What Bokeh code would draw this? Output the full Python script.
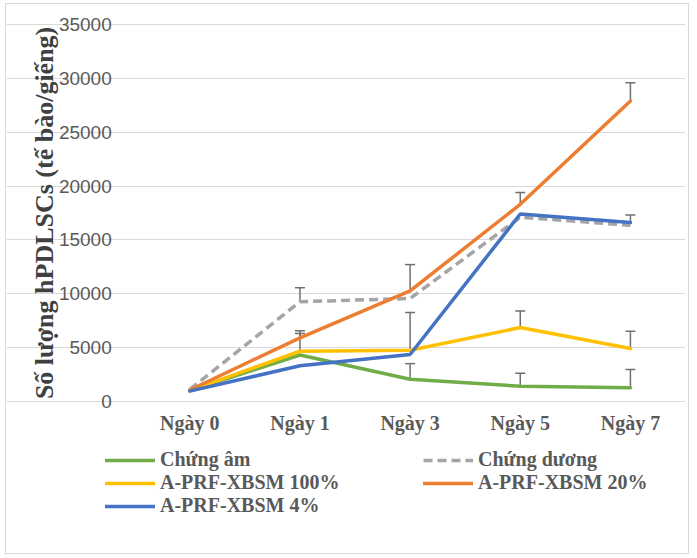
import math
from bokeh.plotting import figure
from bokeh.models import (Range1d, ColumnDataSource, Whisker, TeeHead,
                          Legend, LegendItem, FixedTicker, Label)
from bokeh.embed import file_html
from bokeh.resources import INLINE

days = ["Ngày 0", "Ngày 1", "Ngày 3", "Ngày 5", "Ngày 7"]
y_ticks = [0, 5000, 10000, 15000, 20000, 25000, 30000, 35000]
y_title = "Số lượng hPDLSCs (tế bào/giếng)"

series_names = ["Chứng âm", "Chứng dương", "A-PRF-XBSM 100%", "A-PRF-XBSM 20%", "A-PRF-XBSM 4%"]
chung_am = [1000, 4300, 2050, 1400, 1250]
chung_duong = [1100, 9250, 9550, 17100, 16350]
xbsm_100 = [1000, 4650, 4750, 6850, 4900]
xbsm_20 = [1050, 5900, 10250, 18300, 27900]
xbsm_4 = [950, 3300, 4350, 17400, 16600]

err_chung_am = [0, 0, 1450, 1200, 1700]
err_chung_duong = [0, 1300, 0, 0, 0]
err_100 = [0, 1650, 3500, 1550, 1600]
err_20 = [0, 650, 2450, 1100, 1700]
err_4 = [0, 0, 0, 0, 700]

colors = ["#70AD47", "#A5A5A5", "#FFC000", "#ED7D31", "#4472C4"]
values = [chung_am, chung_duong, xbsm_100, xbsm_20, xbsm_4]
errors = [err_chung_am, err_chung_duong, err_100, err_20, err_4]
dashes = ["solid", "9 5", "solid", "solid", "solid"]

pos = list(range(len(days)))
x_lo = pos[0] - 0.5
x_hi = pos[-1] + 0.5

p = figure(width=684, height=551, x_range=Range1d(x_lo - 1.164, x_hi),
           y_range=Range1d(-12000, y_ticks[-1] + 1860), output_backend="svg", toolbar_location=None,
           min_border_left=0, min_border_right=5, min_border_top=0, min_border_bottom=25)
p.styles = {"border": "1px solid #D9D9D9", "margin-left": "5px", "margin-top": "3px"}
p.outline_line_color = None
p.background_fill_color = "white"

p.xgrid.grid_line_color = None
p.ygrid.grid_line_color = "#D9D9D9"
p.ygrid.grid_line_width = 1.2
p.ygrid.bounds = (x_lo, x_hi)
p.yaxis.ticker = FixedTicker(ticks=y_ticks)
p.yaxis.fixed_location = x_lo

p.yaxis.axis_line_color = None
p.yaxis.major_tick_line_color = None
p.yaxis.minor_tick_line_color = None
p.yaxis.major_label_text_font = "Liberation Sans"
p.yaxis.major_label_text_font_size = "19px"
p.yaxis.major_label_text_color = "#595959"
p.yaxis.major_label_standoff = 17

p.add_layout(Label(x=x_lo - 0.818, y=(y_ticks[0] + y_ticks[-1]) / 2, text=y_title,
                   angle=math.pi / 2, text_align="center", text_baseline="middle",
                   text_font="Liberation Serif", text_font_style="bold",
                   text_font_size="26px", text_color="#404040"))

p.xaxis.ticker = FixedTicker(ticks=pos)
p.xaxis.major_label_overrides = {i: d for i, d in zip(pos, days)}
p.xaxis.fixed_location = 0
p.xaxis.axis_line_color = None
p.xaxis.major_tick_line_color = None
p.xaxis.minor_tick_line_color = None
p.xaxis.major_label_text_font = "Liberation Serif"
p.xaxis.major_label_text_font_style = "bold"
p.xaxis.major_label_text_font_size = "20px"
p.xaxis.major_label_text_color = "#595959"
p.xaxis.major_label_standoff = 5

renderers = []
for name, vals, col, dash in zip(series_names, values, colors, dashes):
    r = p.line(x=pos, y=vals, line_color=col, line_width=3.5, line_dash=dash,
               line_cap="round" if dash == "solid" else "butt")
    renderers.append(r)

for vals, errs in zip(values, errors):
    xs = [i for i, e in zip(pos, errs) if e > 0]
    lo = [v for v, e in zip(vals, errs) if e > 0]
    hi = [v + e for v, e in zip(vals, errs) if e > 0]
    src = ColumnDataSource(dict(x=xs, lo=lo, hi=hi))
    w = Whisker(source=src, base="x", lower="lo", upper="hi", dimension="height",
                line_color="#707070", line_width=1.5, lower_head=None,
                upper_head=TeeHead(size=10, line_color="#707070", line_width=1.5))
    p.add_layout(w)

items = [LegendItem(label=n, renderers=[r]) for n, r in zip(series_names, renderers)]
legend = Legend(items=items, location=(99, 13), ncols=2, orientation="horizontal",
                glyph_width=50, glyph_height=20, label_standoff=5, label_width=263,
                spacing=0, padding=0, margin=0, border_line_color=None,
                background_fill_alpha=0,
                label_text_font="Liberation Serif", label_text_font_style="bold",
                label_text_font_size="20px", label_text_color="#595959")
p.add_layout(legend, "center")

open("out.html", "w").write(file_html(p, INLINE))
